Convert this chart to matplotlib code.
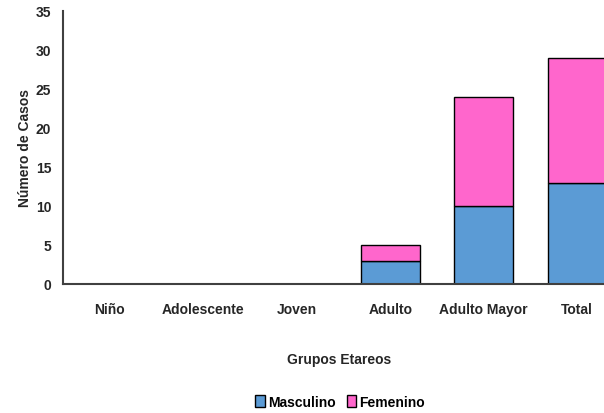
import matplotlib
matplotlib.use("Agg")
import matplotlib.pyplot as plt
import numpy as np

plt.rcParams["font.family"] = ["Liberation Sans", "DejaVu Sans"]

categories = ["Niño", "Adolescente", "Joven", "Adulto", "Adulto Mayor", "Total"]
masculino = [0, 0, 0, 3, 10, 13]
femenino = [0, 0, 0, 2, 14, 16]

BLUE = "#5b9bd5"
PINK = "#ff66cc"
INK = "#262626"
FS = 10

fig = plt.figure(figsize=(6.04, 4.14), dpi=100)
ax = fig.add_axes([63 / 604, 129 / 414, 561 / 604, 273 / 414])

x = np.arange(len(categories))
w = 0.63
ax.bar(x, masculino, w, color=BLUE, edgecolor="black", linewidth=1.0, label="Masculino")
ax.bar(x, femenino, w, bottom=masculino, color=PINK, edgecolor="black", linewidth=1.0, label="Femenino")

ax.set_xlim(-0.5, len(categories) - 0.5)
ax.set_ylim(0, 35)
ax.set_yticks(range(0, 36, 5))
ax.set_xticks(x, categories)
ax.tick_params(length=0, labelsize=FS, colors=INK)
ax.tick_params(axis="y", pad=8.5)
ax.tick_params(axis="x", pad=13)
for lbl in ax.get_xticklabels() + ax.get_yticklabels():
    lbl.set_fontweight("bold")

for s in ["top", "right"]:
    ax.spines[s].set_visible(False)
for s in ["left", "bottom"]:
    ax.spines[s].set_color("#404040")
    ax.spines[s].set_linewidth(1.5)

fig.text(25 / 604, 1 - 148 / 414, "Número de Casos", rotation=90, ha="center", va="center",
         fontsize=FS, fontweight="bold", color=INK)
fig.text(339 / 604, 1 - 360 / 414, "Grupos Etareos", ha="center", va="center",
         fontsize=FS, fontweight="bold", color=INK)

fig.legend(loc="center", bbox_to_anchor=(340 / 604, 1 - 403 / 414), ncol=2, frameon=False,
           handlelength=0.7, handleheight=0.9, handletextpad=0.2, columnspacing=0.8,
           prop={"weight": "bold", "size": FS})

fig.savefig("out.png", dpi=100)
